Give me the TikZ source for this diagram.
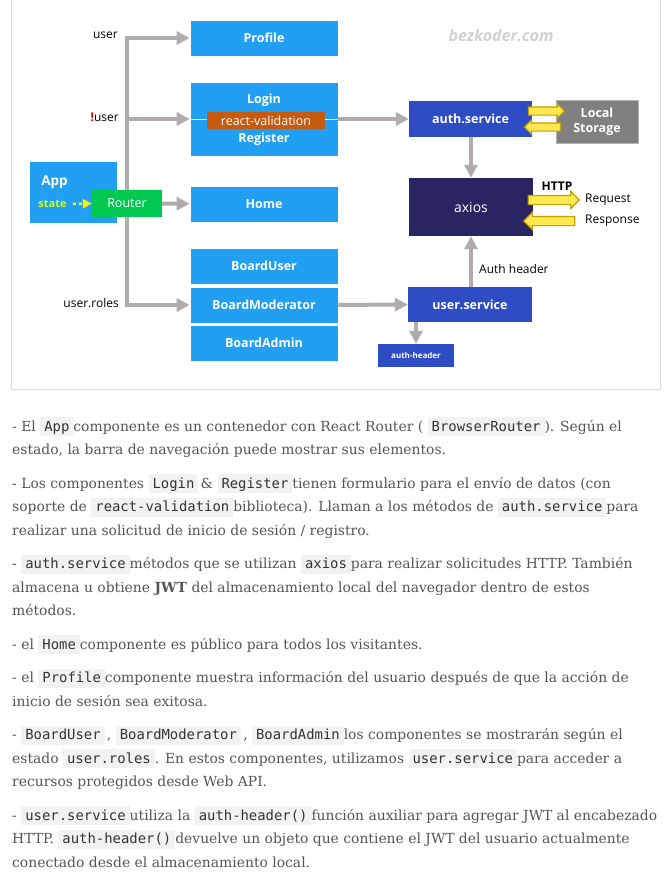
\documentclass[tikz,border=0pt]{standalone}
\usepackage{fontspec}
\setmainfont{DejaVu Serif}
\newfontfamily\diafont{Open Sans}
\newfontfamily\codefont{DejaVu Sans Mono}
\usepackage{tikz}
\usetikzlibrary{arrows.meta}
\usetikzlibrary{shapes.arrows}

\definecolor{boxblue}{RGB}{33,160,243}
\definecolor{svcblue}{RGB}{46,76,196}
\definecolor{axiosnavy}{RGB}{41,36,98}
\definecolor{routergreen}{RGB}{0,200,80}
\definecolor{rvorange}{RGB}{197,90,17}
\definecolor{storegrey}{RGB}{128,128,128}
\definecolor{flowgrey}{RGB}{176,172,172}
\definecolor{arrowyellow}{RGB}{255,232,80}
\definecolor{arrowgold}{RGB}{196,160,0}
\definecolor{statelime}{RGB}{210,255,0}
\definecolor{framegrey}{RGB}{220,220,220}
\definecolor{bodygrey}{RGB}{85,85,85}
\definecolor{codebg}{RGB}{242,242,242}
\definecolor{codetext}{RGB}{51,51,51}
\definecolor{bang}{RGB}{225,0,0}

\newcommand\codebit[1]{{\setlength{\fboxsep}{0pt}\colorbox{codebg}{\hspace{4pt}\rule[-5pt]{0pt}{19pt}{\codefont\color{codetext}\fontsize{13.9}{16}\selectfont #1}\hspace{4pt}}}}

\begin{document}
\begin{tikzpicture}[x=1pt,y=-1pt,
  comp/.style={fill=boxblue, draw=white, line width=0.8pt, text=white, inner sep=0pt,
    font=\diafont\bfseries\fontsize{12.5}{15}\selectfont, minimum width=148pt, minimum height=36pt},
  svc/.style={fill=svcblue, text=white, inner sep=0pt,
    font=\diafont\bfseries\fontsize{12.5}{15}\selectfont},
  flow/.style={flowgrey, line width=4pt, -{Triangle[length=13pt,width=13pt]}},
  yarrow/.style={single arrow, fill=arrowyellow, draw=arrowgold, line width=1.2pt,
    inner xsep=0pt, inner ysep=3.5pt, single arrow head extend=3pt, minimum height=36pt},
  bigyarrow/.style={inner ysep=4pt, single arrow head extend=4pt, minimum height=51pt},
  lbl/.style={inner sep=0pt, font=\diafont\fontsize{12}{14}\selectfont},
  bodyline/.style={anchor=base west, inner sep=0pt, text=bodygrey,
    font=\fontsize{13.9}{16}\selectfont}]

\fill[white] (0,0) rectangle (669,878);
\useasboundingbox (0,0) rectangle (669,878);
\draw[framegrey, line width=1pt] (11,0) -- (11,389) -- (660,389) -- (660,0);

% watermark
\node[text=black!18, font=\diafont\bfseries\itshape\fontsize{16}{18}\selectfont] (mark) at (501,36) {bezkoder.com};

% components
\node[comp] (profile) at (264,38) {Profile};
\node[comp, minimum height=74pt] (login) at (264,119) {};
\node[inner sep=0pt, text=white, font=\diafont\bfseries\fontsize{12.5}{15}\selectfont] (logintxt) at (264,100) {Login};
\node[inner sep=0pt, text=white, font=\diafont\bfseries\fontsize{12.5}{15}\selectfont] (registertxt) at (264,139) {Register};
\draw[white, line width=0.8pt] (login.west) -- (login.east);
\node[fill=rvorange, text=white, inner sep=0pt, minimum width=118pt, minimum height=17pt,
  font=\diafont\fontsize{12.5}{15}\selectfont] (rv) at (266,120.5) {react-validation};
\node[comp] (home) at (264,204) {Home};
\node[comp] (boarduser) at (264,266) {BoardUser};
\node[comp] (boardmod) at (264,305) {BoardModerator};
\node[comp] (boardadmin) at (264,343) {BoardAdmin};

% app and router
\node[comp, minimum width=88pt, minimum height=62pt] (app) at (73,192) {};
\node[inner sep=0pt, text=white, font=\diafont\bfseries\fontsize{13.5}{16}\selectfont] (apptxt) at (54.5,182) {App};
\node[fill=routergreen, text=white, inner sep=0pt, minimum width=70pt, minimum height=27pt,
  font=\diafont\fontsize{12.5}{15}\selectfont] (router) at (127,203.5) {Router};
\node[inner sep=0pt, text=statelime, font=\diafont\bfseries\fontsize{11}{13}\selectfont] (state) at (52.5,204) {state};
\draw[yellow, line width=2.5pt, dash pattern=on 3pt off 3pt, -{Triangle[length=9pt,width=9pt]}]
  ([xshift=6pt]state.east) -- (router.west);

% services
\node[svc, minimum width=123pt, minimum height=36pt] (authsvc) at (470.5,119) {auth.service};
\node[fill=storegrey, draw=black!30, line width=0.8pt, text=white, inner sep=0pt, align=center,
  minimum width=82pt, minimum height=43pt, font=\diafont\bfseries\fontsize{12.5}{15}\selectfont] (store) at (597,121.5) {Local\\Storage};
\node[fill=axiosnavy, text=white, inner sep=0pt, minimum width=124pt, minimum height=58pt,
  font=\diafont\fontsize{14}{16}\selectfont] (axios) at (471,207) {axios};
\node[svc, minimum width=124pt, minimum height=35pt] (usersvc) at (470,304.5) {user.service};
\node[svc, minimum width=76pt, minimum height=23pt, font=\diafont\bfseries\fontsize{8}{10}\selectfont] (authheader) at (416,355.5) {auth-header};

% routing labels
\node[lbl, anchor=east] (uservar) at (118,35) {user};
\node[lbl, anchor=east] (notuser) at (119,117) {\textcolor{bang}{\textbf{!}}user};
\node[lbl, anchor=east] (userroles) at (119,303) {user.roles};

% grey flows
\draw[flow] (router) |- (profile);
\draw[flow] (router) |- (login);
\draw[flow] (router) |- (boardmod);
\draw[flow] (router) -- (home);
\draw[flow] (login) -- (authsvc);
\draw[flow] (boardmod) -- (usersvc);
\draw[flow] (authsvc.south -| axios) -- (axios.north);
\draw[flow] (usersvc.north -| axios) -- (axios.south);
\draw[flow] (authheader |- usersvc.south) -- (authheader.north);
\node[lbl, anchor=west] (authlbl) at (479,269) {Auth header};

% yellow arrows
\node[yarrow] (tostore) at (544.5,111) {};
\node[yarrow, shape border rotate=180] (fromstore) at (544.5,127) {};
\node[yarrow, bigyarrow] (request) at (551.5,200) {};
\node[yarrow, bigyarrow, shape border rotate=180] (response) at (551.5,221) {};
\node[lbl, font=\diafont\bfseries\fontsize{12}{14}\selectfont] (http) at (557,186) {HTTP};
\node[lbl, anchor=west] (reqlbl) at (585,200) {Request};
\node[lbl, anchor=west] (resplbl) at (585,221) {Response};

% text below
\node[bodyline] (p1a) at (12,431) {- El \codebit{App}componente es un contenedor con React Router ( \codebit{BrowserRouter}). Según el};
\node[bodyline] (p1b) at (12,454.6) {estado, la barra de navegación puede mostrar sus elementos.};
\node[bodyline] (p2a) at (12,488) {- Los componentes \codebit{Login}\,\& \codebit{Register}tienen formulario para el envío de datos (con};
\node[bodyline] (p2b) at (12,511.6) {soporte de \codebit{react-validation}biblioteca). Llaman a los métodos de \codebit{auth.service}para};
\node[bodyline] (p2c) at (12,535.2) {realizar una solicitud de inicio de sesión / registro.};
\node[bodyline] (p3a) at (12,568.6) {- \codebit{auth.service}métodos que se utilizan \codebit{axios}para realizar solicitudes HTTP. También};
\node[bodyline] (p3b) at (12,592.2) {almacena u obtiene \textbf{JWT} del almacenamiento local del navegador dentro de estos};
\node[bodyline] (p3c) at (12,615.8) {métodos.};
\node[bodyline] (p4a) at (12,649.2) {- el \codebit{Home}componente es público para todos los visitantes.};
\node[bodyline] (p5a) at (12,682.6) {- el \codebit{Profile}componente muestra información del usuario después de que la acción de};
\node[bodyline] (p5b) at (12,706.2) {inicio de sesión sea exitosa.};
\node[bodyline] (p6a) at (12,739.6) {- \codebit{BoardUser}\,, \codebit{BoardModerator}\,, \codebit{BoardAdmin}los componentes se mostrarán según el};
\node[bodyline] (p6b) at (12,763.2) {estado \codebit{user.roles}. En estos componentes, utilizamos \codebit{user.service}para acceder a};
\node[bodyline] (p6c) at (12,786.8) {recursos protegidos desde Web API.};
\node[bodyline] (p7a) at (12,820.2) {- \codebit{user.service}utiliza la \codebit{auth-header()}función auxiliar para agregar JWT al encabezado};
\node[bodyline] (p7b) at (12,843.8) {HTTP. \codebit{auth-header()}devuelve un objeto que contiene el JWT del usuario actualmente};
\node[bodyline] (p7c) at (12,867.4) {conectado desde el almacenamiento local.};
\end{tikzpicture}
\end{document}
